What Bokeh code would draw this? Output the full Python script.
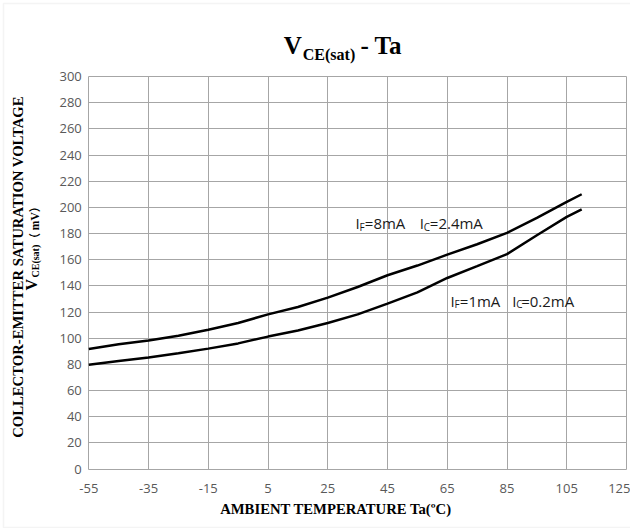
import math
from bokeh.plotting import figure
from bokeh.models import Label, FixedTicker, Range1d, Grid, BoxAnnotation
from bokeh.embed import file_html
from bokeh.resources import INLINE

# ---- data ----
temps = [-55, -45, -35, -25, -15, -5, 5, 15, 25, 35, 45, 55, 65, 75, 85, 95, 105, 110]
vce_if8 = [91.7, 95.3, 98.3, 101.9, 106.5, 111.6, 118.2, 123.8, 131.0, 139.1,
           148.1, 155.5, 163.8, 171.8, 180.5, 191.9, 204.2, 210.0]
vce_if1 = [79.7, 82.5, 85.3, 88.4, 92.0, 96.0, 101.2, 105.8, 111.6, 118.2,
           126.4, 135.0, 146.0, 155.0, 164.2, 178.7, 192.7, 198.4]
x_ticks = [-55, -35, -15, 5, 25, 45, 65, 85, 105, 125]
y_ticks = list(range(0, 301, 20))
X_MIN, X_MAX, Y_MIN, Y_MAX = -55, 125, 0, 300

# ---- layout constants (pixels of the page) ----
W, H = 630, 528
PX0, PX1 = 88.3, 626.0      # pixel column of X_MIN / X_MAX
PY0, PY1 = 468.5, 76.0      # pixel row of Y_MIN / Y_MAX
SX = (PX1 - PX0) / (X_MAX - X_MIN)
SY = (PY0 - PY1) / (Y_MAX - Y_MIN)


def dx(px):
    return X_MIN + (px - PX0) / SX


def dy(py):
    return Y_MIN + (PY0 - py) / SY


GRID = "#a6a6a6"
TICK_TXT = "#595959"
SERIF = "Liberation Serif"
SANS = "Open Sans"

p = figure(width=W, height=H, output_backend="svg", toolbar_location=None, title=None,
           x_range=Range1d(dx(0), dx(W)), y_range=Range1d(dy(H), dy(0)), min_border=0)
p.background_fill_color = "white"
p.border_fill_color = "white"
p.outline_line_color = None

xa, ya = p.xaxis[0], p.yaxis[0]
xa.fixed_location = Y_MIN
ya.fixed_location = X_MIN
xa.bounds = (X_MIN, X_MAX)
ya.bounds = (Y_MIN, Y_MAX)
for ax, ticks in ((xa, x_ticks), (ya, y_ticks)):
    ax.ticker = FixedTicker(ticks=ticks)
    ax.major_label_overrides = {t: str(t) for t in ticks}
    ax.axis_line_color = None
    ax.major_tick_line_color = None
    ax.minor_tick_line_color = None
    ax.major_tick_out = 0
    ax.major_tick_in = 0
    ax.major_label_text_font = SANS
    ax.major_label_text_font_size = "13px"
    ax.major_label_text_color = TICK_TXT
ya.major_label_standoff = 7
xa.major_label_standoff = 15

has_cross = "cross_bounds" in Grid.properties()
for g, ticks, b, cb in ((p.xgrid[0], x_ticks, (X_MIN, X_MAX), (Y_MIN, Y_MAX)),
                        (p.ygrid[0], y_ticks, (Y_MIN, Y_MAX), (X_MIN, X_MAX))):
    g.ticker = FixedTicker(ticks=ticks)
    g.bounds = b
    g.grid_line_color = GRID
    g.grid_line_width = 1
    if has_cross:
        g.cross_bounds = cb
    else:
        g.visible = False
if not has_cross:
    p.segment(x0=x_ticks, x1=x_ticks, y0=[Y_MIN] * len(x_ticks), y1=[Y_MAX] * len(x_ticks),
              line_color=GRID, line_width=1)
    p.segment(x0=[X_MIN] * len(y_ticks), x1=[X_MAX] * len(y_ticks), y0=y_ticks, y1=y_ticks,
              line_color=GRID, line_width=1)

p.line(temps, vce_if8, line_color="black", line_width=2.5)
p.line(temps, vce_if1, line_color="black", line_width=2.5)

# light frame around the whole picture
p.add_layout(BoxAnnotation(left=dx(3), right=dx(640), top=dy(3), bottom=dy(527),
                           fill_color=None, line_color="#d9d9d9", line_width=1.5))


def lab(px, py, text, size, font=SERIF, style="bold", color="black", align="left",
        angle=0.0):
    # (px, py) = left/centre end of the text, vertically at the middle of the capitals
    p.add_layout(Label(x=dx(px), y=dy(py), text=text, text_font=font,
                       text_font_size=size, text_font_style=style, text_color=color,
                       text_align=align, text_baseline="middle", angle=angle))


# title  V_CE(sat) - Ta
lab(283.3, 45.0, "V", "25px")
lab(302.3, 54.0, "CE(sat)", "16px")
lab(360.0, 45.0, "- Ta", "25px")

# x-axis title
lab(335.5, 508.5, "AMBIENT TEMPERATURE Ta(ºC)", "14.7px", align="center")

# y-axis title (two rotated lines)
rot = math.pi / 2
lab(17.5, 266.5, "COLLECTOR-EMITTER SATURATION VOLTAGE", "14.7px", align="center", angle=rot)
lab(30.8, 290.0, "V", "16px", angle=rot)
lab(35.0, 277.0, "CE(sat)", "10px", angle=rot)
lab(34.8, 244.0, "（ mV）", "11.5px", font="Liberation Serif, Noto Sans CJK SC", angle=rot)


# curve annotations  I_F=..  I_C=..
def current_label(mid, parts):
    for px, txt, sub in parts:
        lab(px, mid + (3.7 if sub else 0), txt, "10px" if sub else "15px",
            font=SANS, style="normal", color="#1a1a1a")


current_label(222.3, [(355.0, "I", False), (359.0, "F", True), (364.3, "=8mA", False),
                      (419.3, "I", False), (423.3, "C", True), (429.3, "=2.4mA", False)])
current_label(300.0, [(450.0, "I", False), (454.0, "F", True), (459.3, "=1mA", False),
                      (511.7, "I", False), (515.7, "C", True), (520.7, "=0.2mA", False)])

open("out.html", "w").write(file_html(p, INLINE))
